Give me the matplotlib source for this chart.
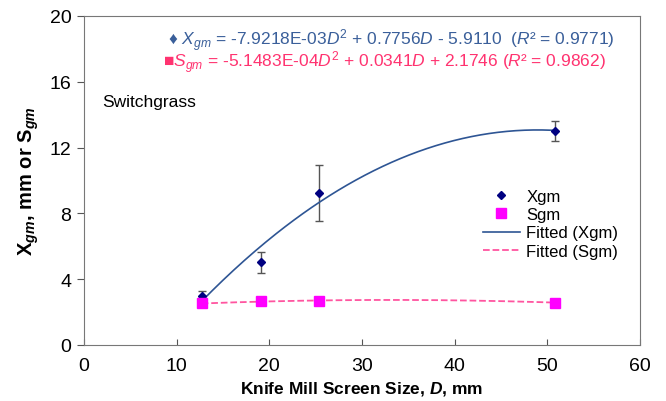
import numpy as np
import matplotlib
matplotlib.use("Agg")
import matplotlib.pyplot as plt

plt.rcParams['font.family'] = ['Liberation Sans', 'DejaVu Sans']
plt.rcParams['mathtext.fontset'] = 'custom'
plt.rcParams['mathtext.rm'] = 'Liberation Sans'
plt.rcParams['mathtext.it'] = 'Liberation Sans:italic'
plt.rcParams['mathtext.bf'] = 'Liberation Sans:bold'
plt.rcParams['mathtext.bfit'] = 'Liberation Sans:italic:bold'

# screen sizes (mm) and measured values
D = [12.7, 19.05, 25.4, 50.8]
xgm = [3.0, 5.03, 9.24, 12.99]
xgm_err = [0.3, 0.65, 1.7, 0.6]
sgm = [2.55, 2.66, 2.67, 2.55]

# fit coefficients as printed on the chart (D^2, D, const)
xgm_coef = [-7.9218e-03, 0.7756, -5.9110]
sgm_coef = [-5.1483e-04, 0.0341, 2.1746]

xticks = [0, 10, 20, 30, 40, 50, 60]
yticks = [0, 4, 8, 12, 16, 20]

fig = plt.figure(figsize=(6.66, 4.02), dpi=100)
ax = fig.add_axes([84/666, 1-346/402, 556/666, 329/402])

dd = np.linspace(min(D), max(D), 200)
ax.errorbar(D, xgm, yerr=xgm_err, fmt='none', ecolor='#555555', elinewidth=1, capsize=3, zorder=2)
ax.plot(D, xgm, 'D', color='#000080', ms=4.5, label='Xgm', zorder=4)
ax.plot(D, sgm, 's', color='#FF00FF', ms=6.5, label='Sgm', zorder=4)
ax.plot(dd, np.polyval(xgm_coef, dd), '-', color='#2E5594', lw=1.2, label='Fitted (Xgm)', zorder=3)
ax.plot(dd, np.polyval(sgm_coef, dd), '--', color='#FF55A0', lw=1.3, label='Fitted (Sgm)', zorder=3)

ax.set_xlim(0, 60)
ax.set_ylim(0, 20)
ax.set_xticks(xticks)
ax.set_yticks(yticks)
ax.tick_params(axis='x', direction='in', length=4, labelsize=14, pad=9, color='#555555')
ax.tick_params(axis='y', direction='out', length=5, labelsize=14, pad=4, color='#555555')
for s in ax.spines.values():
    s.set_color('#777777')

ax.set_xlabel('Knife Mill Screen Size, $\\mathbfit{D}$, mm', fontsize=12.5, fontweight='bold', labelpad=3)
ax.set_ylabel('$\\mathbf{X}_{\\mathbfit{gm}}$, mm or $\\mathbf{S}_{\\mathbfit{gm}}$',
              fontsize=14.5, fontweight='bold', labelpad=6)

ax.text(2, 14.8, 'Switchgrass', fontsize=12.5, va='center')

# fitted equations
ax.text(9.06, 18.25, '\u2666 $X_{gm}$ = -7.9218E-03$D^2$ + 0.7756$D$ - 5.9110  ($R$\u00b2 = 0.9771)',
        fontsize=12.5, color='#3A5F9A', va='baseline')
ax.text(8.52, 16.92, '\u25a0$S_{gm}$ = -5.1483E-04$D^2$ + 0.0341$D$ + 2.1746 ($R$\u00b2 = 0.9862)',
        fontsize=12.5, color='#FF3370', va='baseline')

ax.legend(loc='upper left', bbox_to_anchor=(0.7176, 0.475), frameon=False, fontsize=12,
          handlelength=2.2, handletextpad=0.4, labelspacing=0.2, borderpad=0, borderaxespad=0)

fig.savefig('out.png', dpi=100)
